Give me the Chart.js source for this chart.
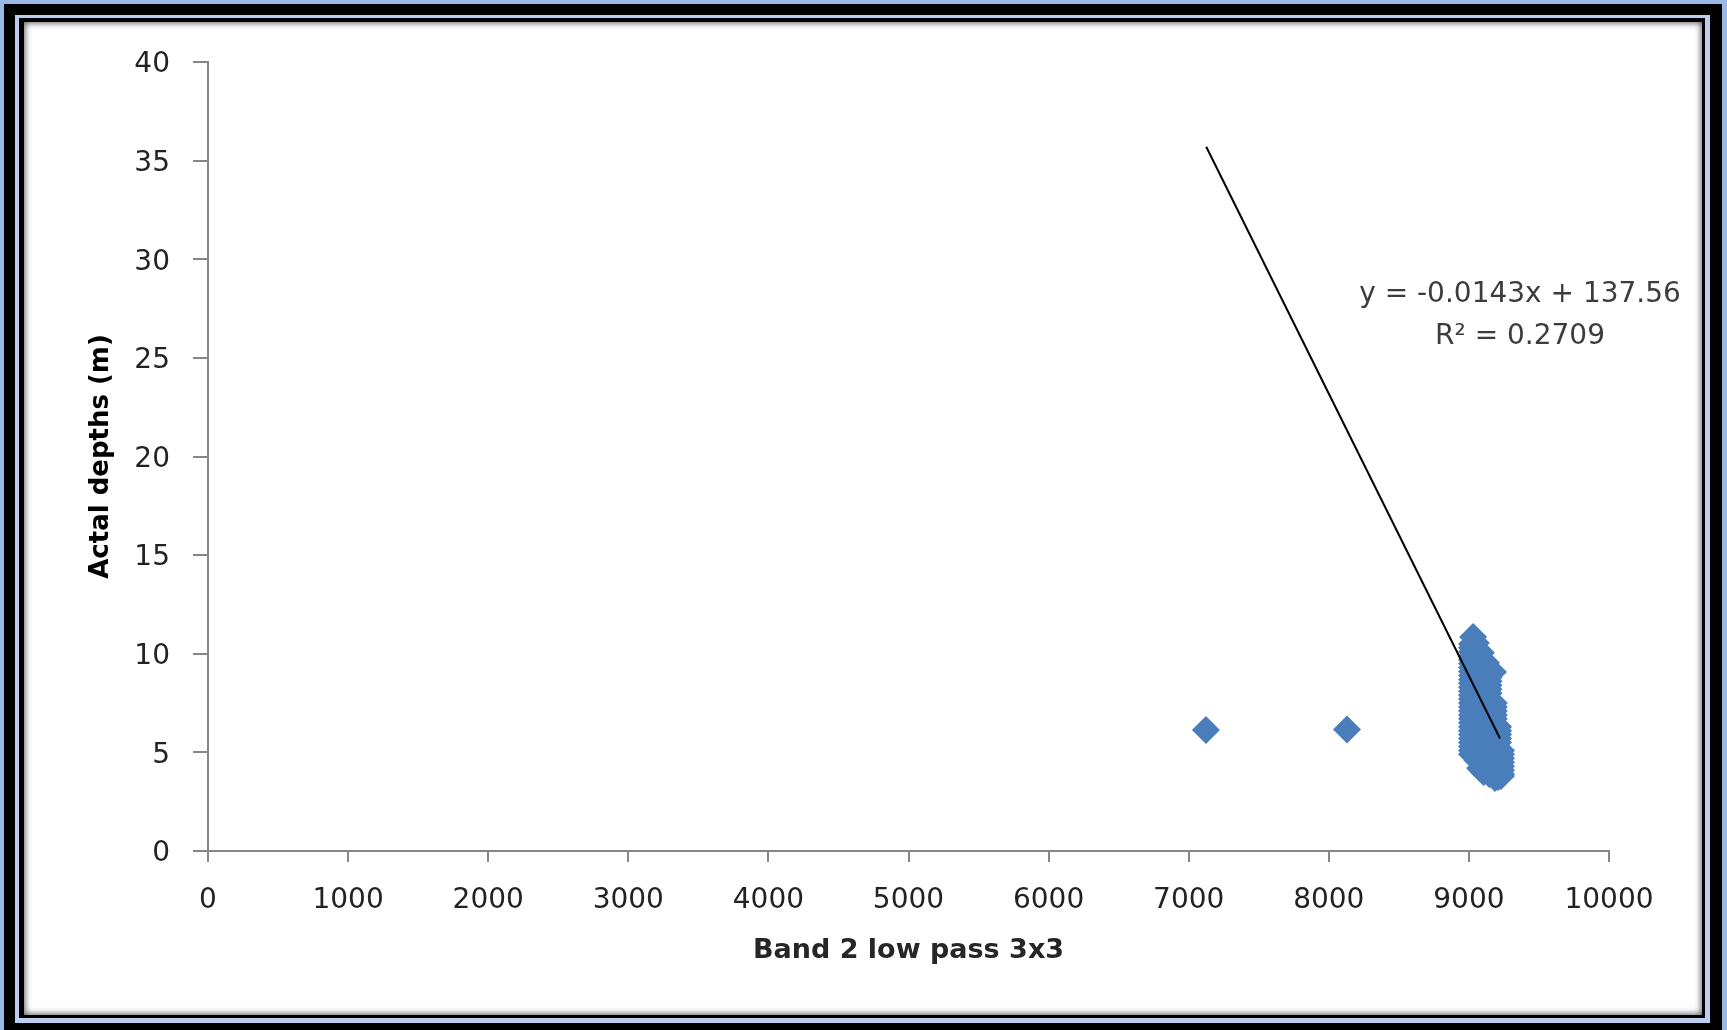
<!DOCTYPE html>
<html>
<head>
<meta charset="utf-8">
<script src="https://cdn.jsdelivr.net/npm/chart.js@4.4.1/dist/chart.umd.min.js"></script>
<style>
  html, body { margin: 0; padding: 0; }
  body { width: 1727px; height: 1030px; overflow: hidden; background: #9bb8e4; position: relative; }
  .box { position: absolute; }
  #outer { left: 4px; top: 4px; width: 1718px; height: 1100px; background: #000; }
  #blueLine { left: 15px; top: 15px; width: 1695px; height: 1008px; background: #bccdef; }
  #innerBlack { left: 19px; top: 18px; width: 1686px; height: 1000px; background: #000; }
  #panel { left: 24px; top: 22px; width: 1678px; height: 993px; background: #fff;
           box-shadow: inset 0 0 6px 1px rgba(0,0,0,0.65); }
  #panel canvas { position: absolute; left: 0; top: 0; }
</style>
</head>
<body>
<div class="box" id="outer"></div>
<div class="box" id="blueLine"></div>
<div class="box" id="innerBlack"></div>
<div class="box" id="panel"><canvas id="chart" width="1678" height="993"></canvas></div>

<script>
// tick values
const xTickValues = [0, 1000, 2000, 3000, 4000, 5000, 6000, 7000, 8000, 9000, 10000];
const yTickValues = [0, 5, 10, 15, 20, 25, 30, 35, 40];

const depthX = [
  7123, 8130,
  9030, 9050, 9086, 9122, 9172,
  9022, 9022, 9022, 9022, 9022, 9022, 9022, 9022, 9022, 9022, 9022, 9022, 9022, 9022, 9022,
  9022, 9022, 9022, 9022, 9022, 9022, 9022, 9022, 9022, 9022, 9022, 9022, 9022, 9022,
  9060, 9060, 9060, 9060, 9060, 9060, 9060, 9060, 9060, 9060, 9060, 9060, 9060, 9060, 9060, 9080,
  9100, 9100, 9100, 9100, 9100, 9100, 9100, 9100, 9100, 9100, 9100, 9100, 9100, 9100, 9105,
  9140, 9140, 9140, 9140, 9140, 9140, 9140, 9140, 9140, 9140, 9140, 9140, 9140, 9140, 9140, 9140, 9145,
  9178, 9178, 9178, 9178, 9178, 9178, 9178, 9178, 9178, 9178, 9178, 9186,
  9208, 9208, 9208, 9208, 9208, 9208, 9208, 9208, 9208,
  9229, 9229, 9229, 9229, 9229, 9229, 9229, 9229
];
const depthY = [
  6.14, 6.16,
  10.85, 10.55, 10.05, 9.55, 9.08,
  10.5, 10.3, 10.1, 9.9, 9.7, 9.5, 9.3, 9.1, 8.9, 8.7, 8.5, 8.3, 8.1, 7.9, 7.7,
  7.5, 7.3, 7.1, 6.9, 6.7, 6.5, 6.3, 6.1, 5.9, 5.7, 5.5, 5.3, 5.1, 4.9,
  10.2, 9.8, 9.4, 9.0, 8.6, 8.2, 7.8, 7.4, 7.0, 6.6, 6.2, 5.8, 5.4, 5.0, 4.6, 4.2,
  9.6, 9.2, 8.8, 8.4, 8.0, 7.6, 7.2, 6.8, 6.4, 6.0, 5.6, 5.2, 4.8, 4.4, 4.0,
  9.2, 9.0, 8.8, 8.6, 8.4, 8.2, 8.0, 7.6, 7.2, 6.8, 6.4, 6.0, 5.6, 5.2, 4.8, 4.4, 3.9,
  7.5, 7.3, 7.1, 6.9, 6.7, 6.3, 5.9, 5.5, 5.1, 4.7, 4.3, 3.7,
  6.3, 6.1, 5.9, 5.7, 5.5, 5.1, 4.7, 4.3, 3.75,
  5.1, 4.9, 4.7, 4.5, 4.3, 4.1, 3.9, 3.8
];

// linear trendline end points
const trendX = [7125, 9222];
const trendY = [35.7, 5.7];

const equationLines = ["y = -0.0143x + 137.56", "R\u00B2 = 0.2709"];
const equationAt = { x: 9365, y: [28.2, 26.05] };

const axisGray = "#868686";
const tickFont = { family: "DejaVu Sans", size: 28 };

const trendLabel = {
  id: "trendLabel",
  afterDatasetsDraw(chart) {
    const ctx = chart.ctx;
    const xs = chart.scales.x, ys = chart.scales.y;
    ctx.save();
    ctx.font = "28px 'DejaVu Sans'";
    ctx.fillStyle = "#3c3c3c";
    ctx.textAlign = "center";
    ctx.textBaseline = "middle";
    equationLines.forEach((t, i) => {
      ctx.fillText(t, xs.getPixelForValue(equationAt.x), ys.getPixelForValue(equationAt.y[i]));
    });
    ctx.restore();
  }
};

new Chart(document.getElementById("chart"), {
  type: "scatter",
  data: {
    datasets: [
      {
        label: "Linear",
        data: trendX.map((x, i) => ({ x, y: trendY[i] })),
        showLine: true,
        borderColor: "#000",
        borderWidth: 2,
        pointRadius: 0,
        fill: false,
        order: 0
      },
      {
        label: "Depth",
        data: depthX.map((x, i) => ({ x, y: depthY[i] })),
        pointStyle: "rectRot",
        pointRadius: 14,
        pointBackgroundColor: "#4A7EBB",
        pointBorderColor: "#4A7EBB",
        pointBorderWidth: 0,
        order: 1
      }
    ]
  },
  options: {
    responsive: false,
    animation: false,
    layout: { padding: { left: 0, right: 93, top: 40, bottom: 0 } },
    plugins: { legend: { display: false }, tooltip: { enabled: false } },
    scales: {
      x: {
        type: "linear",
        min: 0, max: 10000,
        afterBuildTicks: s => { s.ticks = xTickValues.map(v => ({ value: v })); },
        afterFit: s => { s.height = 164; },
        grid: { drawOnChartArea: false, color: axisGray, lineWidth: 2, tickLength: 11 },
        border: { color: axisGray, width: 2 },
        ticks: { font: tickFont, color: "#222", padding: 22, maxRotation: 0, autoSkip: false,
                 callback: v => String(v) },
        title: {
          display: true,
          text: "Band 2 low pass 3x3",
          font: { family: "DejaVu Sans", size: 27, weight: "bold" },
          color: "#262626",
          padding: { top: 0, bottom: 48 }
        }
      },
      y: {
        type: "linear",
        min: 0, max: 40,
        afterBuildTicks: s => { s.ticks = yTickValues.map(v => ({ value: v })); },
        afterFit: s => { s.width = 184; },
        grid: { drawOnChartArea: false, color: axisGray, lineWidth: 2, tickLength: 15 },
        border: { color: axisGray, width: 2 },
        ticks: { font: tickFont, color: "#222", padding: 23, labelOffset: 3, autoSkip: false,
                 callback: v => String(v) },
        title: {
          display: true,
          text: "Actal depths (m)",
          font: { family: "DejaVu Sans", size: 26, weight: "bold" },
          color: "#000",
          padding: { top: 62, bottom: 0 }
        }
      }
    }
  },
  plugins: [trendLabel]
});
</script>
</body>
</html>
